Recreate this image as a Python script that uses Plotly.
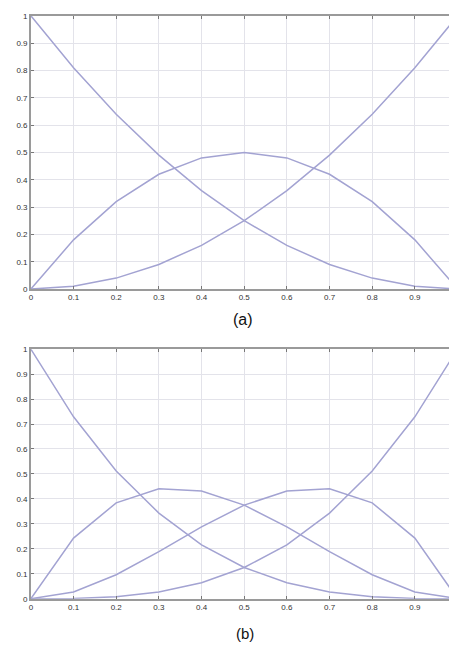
import plotly.graph_objects as go

# Sample positions
t = [0.0, 0.1, 0.2, 0.3, 0.4, 0.5, 0.6, 0.7, 0.8, 0.9, 1.0]

# (a) quadratic basis curves
a_b0 = [1.0, 0.81, 0.64, 0.49, 0.36, 0.25, 0.16, 0.09, 0.04, 0.01, 0.0]
a_b1 = [0.0, 0.18, 0.32, 0.42, 0.48, 0.50, 0.48, 0.42, 0.32, 0.18, 0.0]
a_b2 = [0.0, 0.01, 0.04, 0.09, 0.16, 0.25, 0.36, 0.49, 0.64, 0.81, 1.0]

# (b) cubic basis curves
b_b0 = [1.0, 0.729, 0.512, 0.343, 0.216, 0.125, 0.064, 0.027, 0.008, 0.001, 0.0]
b_b1 = [0.0, 0.243, 0.384, 0.441, 0.432, 0.375, 0.288, 0.189, 0.096, 0.027, 0.0]
b_b2 = [0.0, 0.027, 0.096, 0.189, 0.288, 0.375, 0.432, 0.441, 0.384, 0.243, 0.0]
b_b3 = [0.0, 0.001, 0.008, 0.027, 0.064, 0.125, 0.216, 0.343, 0.512, 0.729, 1.0]

x_ticks = [0, 0.1, 0.2, 0.3, 0.4, 0.5, 0.6, 0.7, 0.8, 0.9]
x_tick_text = ["0", "0.1", "0.2", "0.3", "0.4", "0.5", "0.6", "0.7", "0.8", "0.9"]
y_ticks = [0, 0.1, 0.2, 0.3, 0.4, 0.5, 0.6, 0.7, 0.8, 0.9, 1]
y_tick_text = ["0", "0.1", "0.2", "0.3", "0.4", "0.5", "0.6", "0.7", "0.8", "0.9", "1"]
panel_labels = ["(a)", "(b)"]

LINE = "#a3a3d2"
GRID = "#e3e3ea"
AXIS = "#9a9a9a"

fig = go.Figure()
for ys in (a_b0, a_b1, a_b2):
    fig.add_trace(go.Scatter(x=t, y=ys, mode="lines", xaxis="x", yaxis="y",
                             line=dict(color=LINE, width=1.5), showlegend=False))
for ys in (b_b0, b_b1, b_b2, b_b3):
    fig.add_trace(go.Scatter(x=t, y=ys, mode="lines", xaxis="x2", yaxis="y2",
                             line=dict(color=LINE, width=1.5), showlegend=False))

W, H = 449, 654

def xaxis(anchor):
    return dict(domain=[29 / W, 1], range=[0, 0.98], anchor=anchor,
                tickvals=x_ticks, ticktext=x_tick_text,
                ticks="inside", ticklen=3, tickcolor="#777",
                showline=True, linecolor=AXIS, linewidth=1.5, mirror="ticks",
                showgrid=True, gridcolor=GRID, gridwidth=1, zeroline=False,
                tickfont=dict(family="Arial", size=8, color="#333"))

def yaxis(anchor, top, bottom):
    return dict(domain=[1 - bottom / H, 1 - top / H], range=[0, 1], anchor=anchor,
                tickvals=y_ticks, ticktext=y_tick_text,
                ticks="inside", ticklen=3, tickcolor="#777",
                showline=True, linecolor=AXIS, linewidth=1.5, mirror=False,
                showgrid=True, gridcolor=GRID, gridwidth=1, zeroline=False,
                tickfont=dict(family="Arial", size=8, color="#333"))

fig.update_layout(
    width=W, height=H,
    margin=dict(l=0, r=0, t=0, b=0),
    paper_bgcolor="white", plot_bgcolor="white",
    xaxis=xaxis("y"),
    yaxis=yaxis("x", 12, 289),
    xaxis2=xaxis("y2"),
    yaxis2=yaxis("x2", 350, 603),
    annotations=[
        dict(text=panel_labels[0], x=242 / W, y=1 - 320 / H, xref="paper", yref="paper",
             xanchor="center", yanchor="middle",
             showarrow=False, font=dict(family="Arial", size=16, color="#111")),
        dict(text=panel_labels[1], x=244 / W, y=1 - 638 / H, xref="paper", yref="paper",
             xanchor="center", yanchor="middle",
             showarrow=False, font=dict(family="Arial", size=15, color="#111")),
    ],
)

fig.write_html("out.html")
